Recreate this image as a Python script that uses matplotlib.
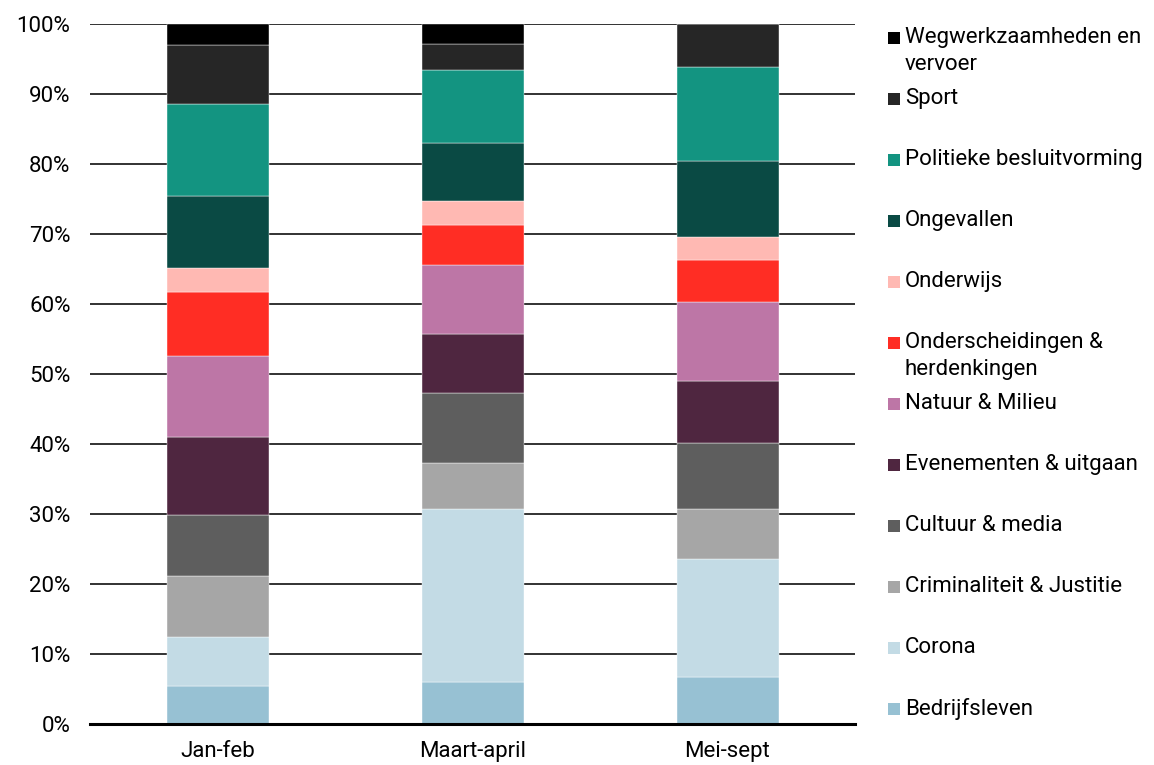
import numpy as np
import matplotlib
matplotlib.use("Agg")
import matplotlib.pyplot as plt
from matplotlib.patches import Rectangle

plt.rcParams["font.family"] = ["Roboto", "DejaVu Sans"]

# ---------------------------------------------------------------------------
# Data (share of items per topic, %)
# ---------------------------------------------------------------------------
periods = ["Jan-feb", "Maart-april", "Mei-sept"]
topics = [
    "Bedrijfsleven", "Corona", "Criminaliteit & Justitie", "Cultuur & media",
    "Evenementen & uitgaan", "Natuur & Milieu", "Onderscheidingen &\nherdenkingen",
    "Onderwijs", "Ongevallen", "Politieke besluitvorming", "Sport",
    "Wegwerkzaamheden en\nvervoer",
]
colors = [
    "#97C1D3", "#C3DBE5", "#A6A6A6", "#5E5E5E", "#4F2640", "#BD76A6",
    "#FF2D24", "#FFB9B3", "#0A4A44", "#139481", "#262626", "#000000",
]
jan_feb = [5.4, 7.0, 8.7, 8.8, 11.1, 11.6, 9.1, 3.4, 10.3, 13.2, 8.4, 3.0]
maart_april = [6.0, 24.7, 6.6, 10.0, 8.4, 9.9, 5.7, 3.4, 8.3, 10.4, 3.7, 2.9]
mei_sept = [6.7, 16.9, 7.1, 9.4, 8.9, 11.3, 6.0, 3.3, 10.8, 13.5, 6.1, 0.0]

values = np.array([jan_feb, maart_april, mei_sept])

# ---------------------------------------------------------------------------
# Figure
# ---------------------------------------------------------------------------
fig = plt.figure(figsize=(11.54, 7.65), dpi=100)
ax = fig.add_axes([90 / 1154, 1 - 724 / 765, (855 - 90) / 1154, 700 / 765])

x = np.arange(len(periods))
bottom = np.zeros(len(periods))
for i, (name, col) in enumerate(zip(topics, colors)):
    ax.bar(x, values[:, i], 0.4, bottom=bottom, color=col,
           edgecolor="white", linewidth=0.3, zorder=2)
    bottom += values[:, i]

ax.set_xlim(-0.5, 2.5)
ax.set_ylim(0, 100)
ax.set_yticks(np.arange(0, 101, 10))
ax.set_yticklabels([f"{v}%" for v in range(0, 101, 10)], fontsize=16)
ax.set_xticks(x)
ax.set_xticklabels(periods, fontsize=16)
ax.yaxis.grid(True, color="#222222", lw=1.3, zorder=0)
ax.set_axisbelow(True)
ax.tick_params(length=0, pad=14, axis="y")
ax.tick_params(length=0, pad=12, axis="x")
for s in ["top", "right", "left"]:
    ax.spines[s].set_visible(False)
ax.spines["bottom"].set_linewidth(2.2)
ax.spines["bottom"].set_color("black")
ax.spines["bottom"].set_zorder(3)

# --- Legend (reversed order, drawn by hand for even spacing) ---
W, H = 1154, 765
for k, (name, col) in enumerate(zip(topics[::-1], colors[::-1])):
    yc = 38 + 61.0 * k
    fig.patches.append(Rectangle((888 / W, 1 - (yc + 6) / H), 12 / W, 12 / H,
                                 transform=fig.transFigure, facecolor=col,
                                 edgecolor="none"))
    fig.text(905 / W, 1 - (yc - 11) / H, name, fontsize=16, va="top",
             ha="left", linespacing=1.4)

fig.savefig("out.png", dpi=100)
